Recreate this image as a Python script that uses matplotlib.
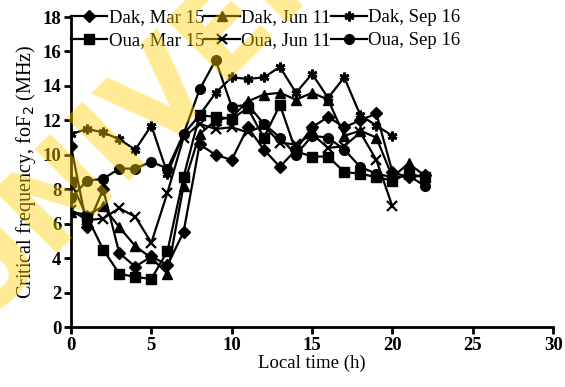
import matplotlib
matplotlib.use("Agg")
import matplotlib.pyplot as plt
import numpy as np

# Local time (hours)
hours_22 = list(range(0, 23))
hours_20 = list(range(0, 21))

# Critical frequency foF2 (MHz)
dak_mar15 = [10.5, 5.8, 8.0, 4.3, 3.5, 4.1, 3.6, 5.5, 10.6, 10.0, 9.7, 11.6, 10.3,
             9.3, 10.3, 11.6, 12.2, 11.6, 12.0, 12.4, 9.0, 8.7, 8.8]
dak_jun11 = [6.7, 6.5, 7.0, 5.8, 4.7, 4.0, 3.1, 8.2, 11.2, 12.0, 12.2, 13.1, 13.5,
             13.6, 13.2, 13.6, 13.2, 11.1, 11.4, 11.0, 8.7, 9.5, 8.8]
dak_sep16 = [11.2, 11.5, 11.3, 10.9, 10.3, 11.7, 8.9, 11.2, 12.3, 13.6, 14.5, 14.4,
             14.5, 15.1, 13.6, 14.7, 13.3, 14.5, 12.3, 11.7, 11.1]
oua_mar15 = [8.4, 6.4, 4.5, 3.1, 2.9, 2.8, 4.4, 8.7, 12.3, 12.2, 12.1, 12.7, 11.0,
             12.9, 10.2, 9.9, 9.9, 9.0, 8.9, 8.7, 8.5, 8.9, 8.7]
oua_jun11 = [6.8, 6.2, 6.3, 6.9, 6.4, 4.9, 7.8, 11.0, 11.8, 11.5, 11.6, 11.3, 11.7,
             10.7, 10.6, 11.2, 10.4, 10.5, 11.3, 9.7, 7.0]
oua_sep16 = [7.5, 8.5, 8.6, 9.2, 9.2, 9.6, 9.2, 11.2, 13.8, 15.5, 12.8, 12.9, 11.8,
             11.0, 10.0, 11.1, 11.0, 10.3, 9.3, 8.9, 8.7, 8.8, 8.2]

x_ticks = [0, 5, 10, 15, 20, 25, 30]
y_ticks = [0, 2, 4, 6, 8, 10, 12, 14, 16, 18]

plt.rcParams["font.family"] = ["Liberation Serif", "DejaVu Serif"]

fig = plt.figure(figsize=(5.65, 3.87), dpi=100)
ax = fig.add_axes([0.1257, 0.155, 0.8533, 0.801])

common = dict(color="black", lw=1.6)
h1, = ax.plot(hours_22, dak_mar15, marker="D", ms=6, label="Dak, Mar 15", **common)
h2, = ax.plot(hours_22, dak_jun11, marker="^", ms=7.5, label="Dak, Jun 11", **common)
h3, = ax.plot(hours_20, dak_sep16, marker=(6, 2, 0), ms=7, mew=2, label="Dak, Sep 16", **common)
h4, = ax.plot(hours_22, oua_mar15, marker="s", ms=7, label="Oua, Mar 15", **common)
h5, = ax.plot(hours_20, oua_jun11, marker="x", ms=7, mew=1.6, label="Oua, Jun 11", **common)
h6, = ax.plot(hours_22, oua_sep16, marker="o", ms=7, label="Oua, Sep 16", **common)

ax.set_xlim(0, 30)
ax.set_ylim(0, 18)
ax.set_xticks(x_ticks)
ax.set_yticks(y_ticks)
for lab in ax.get_xticklabels() + ax.get_yticklabels():
    lab.set_fontweight("bold")
    lab.set_fontsize(13.5)
ax.tick_params(direction="out", length=5, width=2, pad=2)
for s in ["top", "right"]:
    ax.spines[s].set_visible(False)
for s in ["left", "bottom"]:
    ax.spines[s].set_linewidth(2)

ax.set_xlabel("Local time (h)", fontsize=13.5, labelpad=1)
ax.set_ylabel("Critical frequency, foF$_2$ (MHz)", fontsize=14.5, labelpad=3)

leg = ax.legend([h1, h4, h2, h5, h3, h6],
                [h.get_label() for h in [h1, h4, h2, h5, h3, h6]],
                ncol=3, loc="upper left", bbox_to_anchor=(0.0, 1.025),
                frameon=False, fontsize=13.5, handlelength=1.9,
                handletextpad=0.1, columnspacing=0.0, labelspacing=0.3,
                borderaxespad=0.0, borderpad=0.0)

# Diagonal watermark overlay
fig.text(-0.01, 0.12, "UNIVERSITY", fontsize=88, fontweight="bold",
         family="DejaVu Sans", color="#FFD000", alpha=0.42, rotation=45,
         ha="left", va="bottom", rotation_mode="anchor", zorder=10)

fig.savefig("out.png", dpi=100)
